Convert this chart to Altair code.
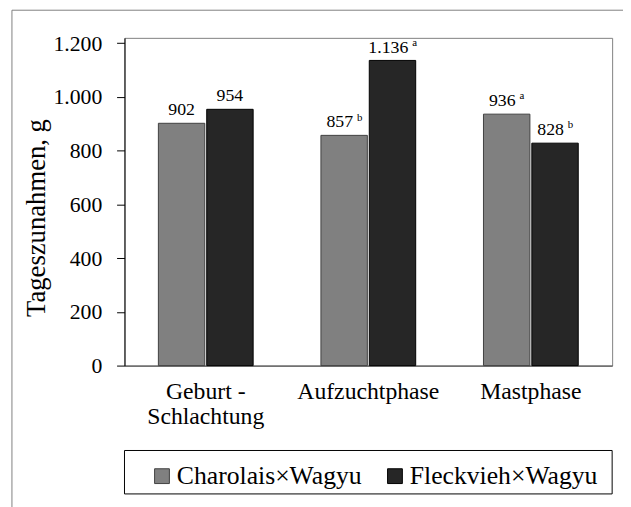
import altair as alt
import pandas as pd

phases = ["Geburt - Schlachtung", "Aufzuchtphase", "Mastphase"]
series = ["Charolais×Wagyu", "Fleckvieh×Wagyu"]
charolais = [902, 857, 936]
fleckvieh = [954, 1136, 828]
sup_charolais = ["", "b", "a"]
sup_fleckvieh = ["", "a", "b"]
y_ticks = [0, 200, 400, 600, 800, 1000, 1200]

rows = []
for i, p in enumerate(phases):
    rows.append({"phase": p, "series": series[0], "value": charolais[i], "sup": sup_charolais[i]})
    rows.append({"phase": p, "series": series[1], "value": fleckvieh[i], "sup": sup_fleckvieh[i]})
df = pd.DataFrame(rows)

FONT = "Liberation Serif"

x_enc = alt.X(
    "phase:N", sort=phases,
    scale=alt.Scale(paddingInner=0.417, paddingOuter=0.2085),
    axis=alt.Axis(
        title=None, labelAngle=0, ticks=False,
        labelExpr="datum.value == 'Geburt - Schlachtung' ? ['Geburt -', 'Schlachtung'] : datum.label",
        labelFont=FONT, labelFontSize=24, labelColor="black",
        labelPadding=14, labelLineHeight=26, labelBaseline="top",
        domainColor="#404040", domainWidth=1,
    ),
)
xo_enc = alt.XOffset("series:N", sort=series, scale=alt.Scale(paddingInner=0.04, paddingOuter=0))
y_enc = alt.Y(
    "value:Q",
    scale=alt.Scale(domain=[0, 1220], nice=False),
    axis=alt.Axis(
        values=y_ticks,
        labelExpr="replace(format(datum.value, ','), ',', '.')",
        title="Tageszunahmen, g", grid=False,
        tickSize=8, tickColor="black", domainColor="black",
        labelPadding=15, labelFont=FONT, labelFontSize=22, labelColor="black",
        titleFont=FONT, titleFontSize=27, titleFontWeight="normal", titleColor="black",
        titleX=-89, titleY=182, titleAngle=270, titleAlign="center", titleBaseline="middle",
    ),
)

base = alt.Chart(df).encode(x=x_enc, xOffset=xo_enc, y=y_enc)

bars = base.mark_bar(strokeWidth=1).encode(
    fill=alt.Fill(
        "series:N", sort=series,
        scale=alt.Scale(domain=series, range=["#808080", "#262626"]),
        legend=alt.Legend(
            title=None, orient="none", legendX=25, legendY=431,
            direction="horizontal", symbolType="square", symbolSize=225,
            symbolStrokeColor="black", symbolStrokeWidth=1, symbolOpacity=1,
            labelFont=FONT, labelFontSize=26, labelColor="black",
            labelLimit=400, columnPadding=20, labelOffset=2, padding=0,
        ),
    ),
    stroke=alt.Stroke(
        "series:N", sort=series,
        scale=alt.Scale(domain=series, range=["#404040", "#000000"]),
        legend=None,
    ),
)

label_calc = "replace(format(datum.value, ','), ',', '.')"

num_plain = base.transform_filter("datum.sup == ''").transform_calculate(lbl=label_calc).mark_text(
    font=FONT, fontSize=18, color="black", dy=-8, baseline="alphabetic", align="center"
).encode(text="lbl:N")

num_sup3 = base.transform_filter("datum.sup != '' && datum.value < 1000").transform_calculate(lbl=label_calc).mark_text(
    font=FONT, fontSize=18, color="black", dy=-8, dx=9, baseline="alphabetic", align="right"
).encode(text="lbl:N")

sup3 = base.transform_filter("datum.sup != '' && datum.value < 1000").mark_text(
    font=FONT, fontSize=11, color="black", dy=-15, dx=13, baseline="alphabetic", align="left"
).encode(text="sup:N")

num_sup5 = base.transform_filter("datum.sup != '' && datum.value >= 1000").transform_calculate(lbl=label_calc).mark_text(
    font=FONT, fontSize=18, color="black", dy=-8, dx=16, baseline="alphabetic", align="right"
).encode(text="lbl:N")

sup5 = base.transform_filter("datum.sup != '' && datum.value >= 1000").mark_text(
    font=FONT, fontSize=11, color="black", dy=-15, dx=20, baseline="alphabetic", align="left"
).encode(text="sup:N")

one = pd.DataFrame({"k": [0]})
outer_frame = alt.Chart(one).mark_rect(fillOpacity=0, stroke="#7f7f7f", strokeWidth=1).encode(
    x=alt.value(-114), x2=alt.value(800), y=alt.value(-28), y2=alt.value(800)
)
legend_box = alt.Chart(one).mark_rect(fillOpacity=0, stroke="black", strokeWidth=1).encode(
    x=alt.value(0), x2=alt.value(494), y=alt.value(418), y2=alt.value(462)
)

chart = alt.layer(outer_frame, legend_box, bars, num_plain, num_sup3, sup3, num_sup5, sup5).properties(
    width=494, height=332,
    autosize=alt.AutoSizeParams(type="none"),
    padding={"left": 118, "top": 27, "right": 11, "bottom": 140},
    background="white",
).configure_view(stroke="#808080", strokeWidth=1)

chart.save("out.html", embed_options={"renderer": "svg", "actions": False})
